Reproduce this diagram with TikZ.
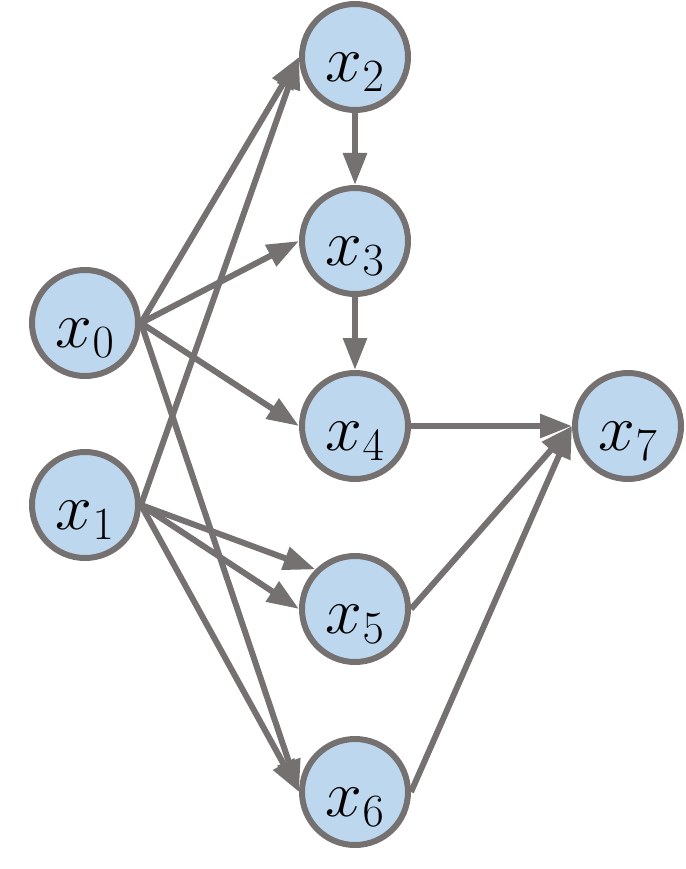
\RequirePackage{fix-cm}
\documentclass[tikz,border=0pt]{standalone}
\usetikzlibrary{arrows.meta}
\definecolor{nodefill}{HTML}{BDD7EE}
\definecolor{edgegray}{HTML}{767171}
\tikzset{
  vtx/.style={circle, draw=edgegray, fill=nodefill, line width=6pt, minimum size=106pt, inner sep=0pt},
  lbl/.style={yshift=-15pt, font=\fontsize{66}{70}\selectfont, inner sep=0pt},
  edge/.style={draw=edgegray, line width=6pt, -{Triangle[length=32pt,width=23pt]}}
}
\begin{document}
\begin{tikzpicture}[x=1pt,y=-1pt]
\useasboundingbox (0,0) rectangle (685,869);
\node[vtx, label={[lbl]center:$x_2$}] (x2) at (355,57) {};
\node[vtx, label={[lbl]center:$x_3$}] (x3) at (355,241) {};
\node[vtx, label={[lbl]center:$x_4$}] (x4) at (355,426) {};
\node[vtx, label={[lbl]center:$x_5$}] (x5) at (355,609) {};
\node[vtx, label={[lbl]center:$x_6$}] (x6) at (355,792) {};
\node[vtx, label={[lbl]center:$x_0$}] (x0) at (85,323) {};
\node[vtx, label={[lbl]center:$x_1$}] (x1) at (85,505) {};
\node[vtx, label={[lbl]center:$x_7$}] (x7) at (628,426) {};
\draw[edge] (x0.east) -- (x2.west);
\draw[edge] (x0.east) -- (x3.west);
\draw[edge] (x0.east) -- (x4.west);
\draw[edge] (x0.east) -- (x6.west);
\draw[edge] (x1.east) -- (x2.west);
\draw[edge] (x1.east) -- (x5.north west);
\draw[edge] (x1.east) -- (x5.west);
\draw[edge] (x1.east) -- (x6.west);
\draw[edge] (x2.south) -- (x3.north);
\draw[edge] (x3.south) -- (x4.north);
\draw[edge] (x4.east) -- (x7.west);
\draw[edge] (x5.east) -- (x7.west);
\draw[edge] (x6.east) -- (x7.west);
\end{tikzpicture}
\end{document}
